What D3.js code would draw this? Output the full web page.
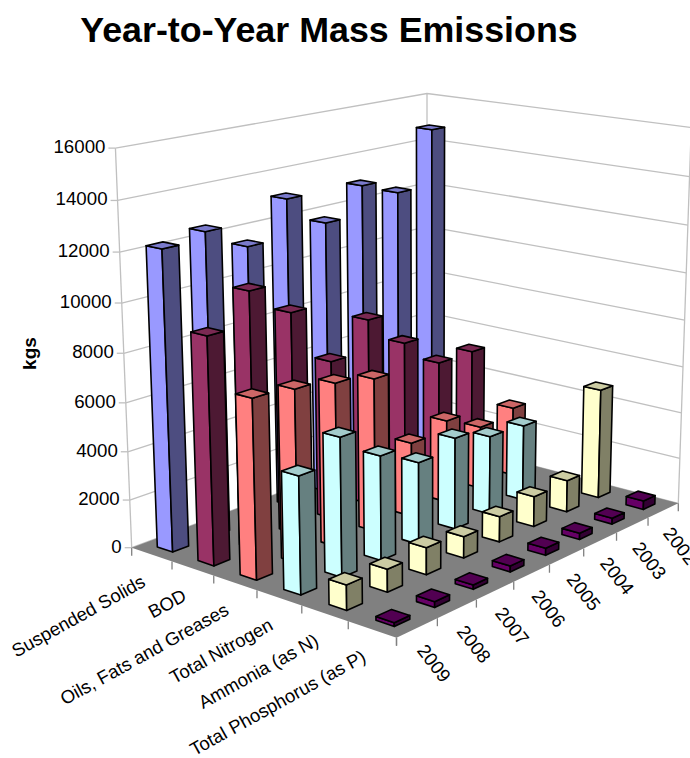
<!DOCTYPE html>
<html><head><meta charset="utf-8">
<style>html,body{margin:0;background:#fff;overflow:hidden}svg{display:block}text{font-family:"Liberation Sans",Arial,sans-serif;fill:#000}</style>
<script src="https://cdn.jsdelivr.net/npm/d3@7"></script></head><body><script>
// Annual mass emissions by parameter, kg. Years run from the front edge to the back wall.
const categories=["Suspended Solids","BOD","Oils, Fats and Greases","Total Nitrogen","Ammonia (as N)","Total Phosphorus (as P)"];
const years=["2009","2008","2007","2006","2005","2004","2003","2002"];
const suspendedSolids=[12233,12522,11535,13106,11750,12973,12330,14760];
const bod=[9228,10534,9224,6728,8008,6535,5174,5189];
const oilsFats=[7236,7060,6779,6438,3177,3580,2743,3050];
const totalNitrogen=[4702,5627,4301,3435,3875,3373,3275,null];
const ammonia=[1004,920,1105,887,1071,1289,1366,4760];
const totalPhosphorus=[147,230,176,246,296,261,253,374];
const seriesValues=[suspendedSolids,bod,oilsFats,totalNitrogen,ammonia,totalPhosphorus];
const valueTicks=[0,2000,4000,6000,8000,10000,12000,14000,16000];
const frontColors=["#9999FF","#993366","#FF8080","#CCFFFF","#FFFFCC","#660066"];
const sideColors=["#4D4D80","#4D1933","#804040","#668080","#808066","#330033"];
const topColors=["#7A7ACC","#7A2952","#CC6666","#A3CCCC","#CCCCA3","#520052"];

const W=690,H=758;
// Floor corners on screen and the vertical vanishing point define the perspective projection.
const A=[131.7,547.7],B=[396.5,637.7],C=[678.3,503.3],D=[427,438],vanish=[427,7800],backTopY=93.5;
const dx1=B[0]-C[0],dx2=D[0]-C[0],sx=A[0]-B[0]+C[0]-D[0],dy1=B[1]-C[1],dy2=D[1]-C[1],sy=A[1]-B[1]+C[1]-D[1],den=dx1*dy2-dx2*dy1;
const g=(sx*dy2-dx2*sy)/den,h=(dx1*sy-sx*dy1)/den;
const a=B[0]-A[0]+g*B[0],b=D[0]-A[0]+h*D[0],d=B[1]-A[1]+g*B[1],e=D[1]-A[1]+h*D[1];
const k=-(D[1]-backTopY)/(vanish[1]-backTopY)*(1+h);
function project(u,v,w){
  const X=a*u+b*v+A[0],Y=d*u+e*v+A[1],N=g*u+h*v+1;
  return [(X+w*k*vanish[0])/(N+w*k),(Y+w*k*vanish[1])/(N+w*k)];
}
const uScale=d3.scaleBand(categories,[0,1]).paddingInner(.62).paddingOuter(.31);
const vScale=d3.scaleBand(years,[0,1]).paddingInner(.62).paddingOuter(.31);
const wScale=d3.scaleLinear([0,16000],[0,1]);
const uStep=d3.scalePoint(d3.range(categories.length+1),[0,1]);
const vStep=d3.scalePoint(d3.range(years.length+1),[0,1]);
const path=pts=>d3.line()(pts)+"Z";

const svg=d3.select("body").append("svg").attr("width",W).attr("height",H);
svg.append("text").attr("x",329).attr("y",42).attr("text-anchor","middle").attr("font-size",35.8).attr("font-weight","bold").text("Year-to-Year Mass Emissions");
svg.append("text").attr("transform","translate(35.5,353.5) rotate(-90)").attr("text-anchor","middle").attr("font-size",19).attr("font-weight","bold").text("kgs");

// Walls: gridlines wrap from the left wall onto the back wall.
const grid=svg.append("g").attr("fill","none").attr("stroke","#C0C0C0").attr("stroke-width",1.3);
grid.selectAll("path.grid").data(valueTicks).join("path").attr("class","grid")
  .attr("d",t=>d3.line()([project(0,0,wScale(t)),project(0,1,wScale(t)),project(1,1,wScale(t))]));
grid.selectAll("path.edge").data([[0,0],[0,1],[1,1]]).join("path").attr("class","edge")
  .attr("d",c=>d3.line()([project(c[0],c[1],0),project(c[0],c[1],1)]));
grid.selectAll("path.ytick").data(valueTicks).join("path").attr("class","ytick")
  .attr("d",t=>{const p=project(0,0,wScale(t));return d3.line()([[p[0]-7,p[1]],p])});
svg.append("g").selectAll("text").data(valueTicks).join("text")
  .attr("x",t=>project(0,0,wScale(t))[0]-10).attr("y",t=>project(0,0,wScale(t))[1]+5)
  .attr("text-anchor","end").attr("font-size",18.7).text(t=>t);

svg.append("path").attr("d",path([project(0,0,0),project(1,0,0),project(1,1,0),project(0,1,0)])).attr("fill","#808080");

// Bars painted back to front.
const bars=[];
categories.forEach((c,i)=>{
  years.slice().reverse().forEach(y=>{
    const val=seriesValues[i][years.indexOf(y)];
    if(val!=null)bars.push({i,c,y,val});
  });
});
const barG=svg.append("g").attr("stroke","#000").attr("stroke-width",1.6).attr("stroke-linejoin","round")
  .selectAll("g").data(bars).join("g");
const corners=s=>{const u0=uScale(s.c),u1=u0+uScale.bandwidth(),v0=vScale(s.y),v1=v0+vScale.bandwidth(),w=wScale(s.val);return {u0,u1,v0,v1,w}};
barG.append("path").attr("fill",s=>frontColors[s.i]).attr("d",s=>{const q=corners(s);return path([project(q.u0,q.v0,0),project(q.u1,q.v0,0),project(q.u1,q.v0,q.w),project(q.u0,q.v0,q.w)])});
barG.append("path").attr("fill",s=>sideColors[s.i]).attr("d",s=>{const q=corners(s);return path([project(q.u1,q.v0,0),project(q.u1,q.v1,0),project(q.u1,q.v1,q.w),project(q.u1,q.v0,q.w)])});
barG.append("path").attr("fill",s=>topColors[s.i]).attr("d",s=>{const q=corners(s);return path([project(q.u0,q.v0,q.w),project(q.u1,q.v0,q.w),project(q.u1,q.v1,q.w),project(q.u0,q.v1,q.w)])});

// Floor-edge ticks and rotated labels.
const ticks=svg.append("g").attr("stroke","#808080").attr("stroke-width",1.3);
ticks.selectAll("line.u").data(uStep.domain()).join("line").attr("class","u")
  .attr("x1",n=>project(uStep(n),0,0)[0]).attr("x2",n=>project(uStep(n),0,0)[0])
  .attr("y1",n=>project(uStep(n),0,0)[1]).attr("y2",n=>project(uStep(n),0,0)[1]+8);
ticks.selectAll("line.v").data(vStep.domain()).join("line").attr("class","v")
  .attr("x1",n=>project(1,vStep(n),0)[0]).attr("x2",n=>project(1,vStep(n),0)[0])
  .attr("y1",n=>project(1,vStep(n),0)[1]).attr("y2",n=>project(1,vStep(n),0)[1]+8);
svg.append("g").selectAll("text").data(categories).join("text")
  .attr("transform",c=>{const p=project(uScale(c)+uScale.bandwidth()/2,0,0);return `translate(${p[0]-5},${p[1]+31}) rotate(-29)`})
  .attr("text-anchor","end").attr("font-size",18.5).text(c=>c);
svg.append("g").selectAll("text").data(years).join("text")
  .attr("transform",y=>{const p=project(1,vScale(y)+vScale.bandwidth()/2,0);return `translate(${p[0]-1},${p[1]+23}) rotate(52)`})
  .attr("text-anchor","start").attr("font-size",18.7).text(y=>y);
</script></body></html>
